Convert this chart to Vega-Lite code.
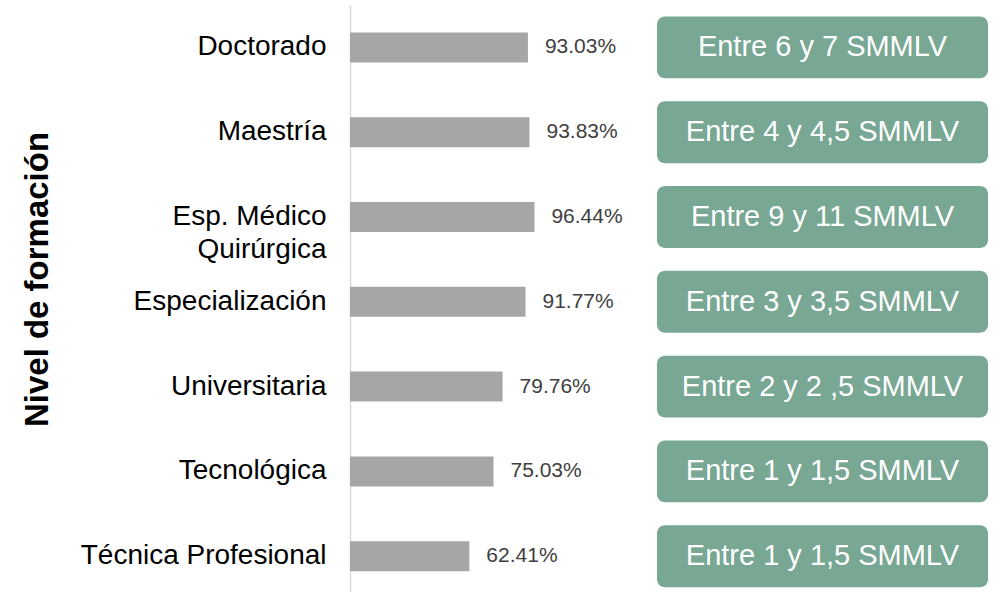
{
  "$schema": "https://vega.github.io/schema/vega-lite/v6.json",
  "padding": {"left": 21, "top": 5, "right": 0, "bottom": 0},
  "background": "white",
  "config": {"font": "Liberation Sans", "view": {"stroke": null}, "concat": {"spacing": 27}},
  "data": {"values": [
    {"nivel": "Doctorado", "pct": 93.03, "etiqueta": "93.03%", "salario": "Entre 6 y 7 SMMLV"},
    {"nivel": "Maestría", "pct": 93.83, "etiqueta": "93.83%", "salario": "Entre 4 y 4,5 SMMLV"},
    {"nivel": "Esp. Médico Quirúrgica", "pct": 96.44, "etiqueta": "96.44%", "salario": "Entre 9 y 11 SMMLV"},
    {"nivel": "Especialización", "pct": 91.77, "etiqueta": "91.77%", "salario": "Entre 3 y 3,5 SMMLV"},
    {"nivel": "Universitaria", "pct": 79.76, "etiqueta": "79.76%", "salario": "Entre 2 y 2 ,5 SMMLV"},
    {"nivel": "Tecnológica", "pct": 75.03, "etiqueta": "75.03%", "salario": "Entre 1 y 1,5 SMMLV"},
    {"nivel": "Técnica Profesional", "pct": 62.41, "etiqueta": "62.41%", "salario": "Entre 1 y 1,5 SMMLV"}
  ]},
  "hconcat": [
    {
      "width": 280,
      "height": 593.6,
      "encoding": {
        "y": {
          "field": "nivel", "type": "nominal", "sort": null,
          "scale": {"paddingInner": 0.646, "paddingOuter": 0.323},
          "axis": {
            "title": "Nivel de formación",
            "titleFontSize": 33,
            "titleFontWeight": "bold",
            "titleColor": "#000000",
            "titleX": -296,
            "titleY": 274,
            "titleBaseline": "bottom",
            "domain": true,
            "domainColor": "#d9d9d9",
            "domainWidth": 1.5,
            "ticks": false,
            "grid": false,
            "labelFontSize": 28,
            "labelColor": "#000000",
            "labelPadding": 24,
            "labelLimit": 0,
            "labelLineHeight": 33,
            "labelExpr": "datum.label == 'Esp. Médico Quirúrgica' ? ['Esp. Médico', 'Quirúrgica'] : datum.label"
          }
        }
      },
      "layer": [
        {
          "mark": {"type": "bar", "color": "#a6a6a6"},
          "encoding": {
            "x": {"field": "pct", "type": "quantitative", "scale": {"domain": [0, 146.4], "nice": false}, "axis": null}
          }
        },
        {
          "mark": {"type": "text", "align": "left", "baseline": "middle", "dx": 17, "fontSize": 21, "color": "#404040"},
          "encoding": {
            "x": {"field": "pct", "type": "quantitative"},
            "text": {"field": "etiqueta"}
          }
        }
      ]
    },
    {
      "width": 331,
      "height": 593.6,
      "encoding": {
        "y": {
          "field": "nivel", "type": "nominal", "sort": null,
          "scale": {"paddingInner": 0.27, "paddingOuter": 0.135},
          "axis": null
        }
      },
      "layer": [
        {
          "mark": {"type": "bar", "color": "#78a794", "cornerRadius": 8},
          "encoding": {
            "x": {"datum": 0, "type": "quantitative", "scale": {"domain": [0, 1]}, "axis": null},
            "x2": {"datum": 1}
          }
        },
        {
          "mark": {"type": "text", "align": "center", "baseline": "middle", "fontSize": 29, "color": "#ffffff"},
          "encoding": {
            "x": {"datum": 0.5, "type": "quantitative"},
            "text": {"field": "salario"}
          }
        }
      ]
    }
  ]
}
